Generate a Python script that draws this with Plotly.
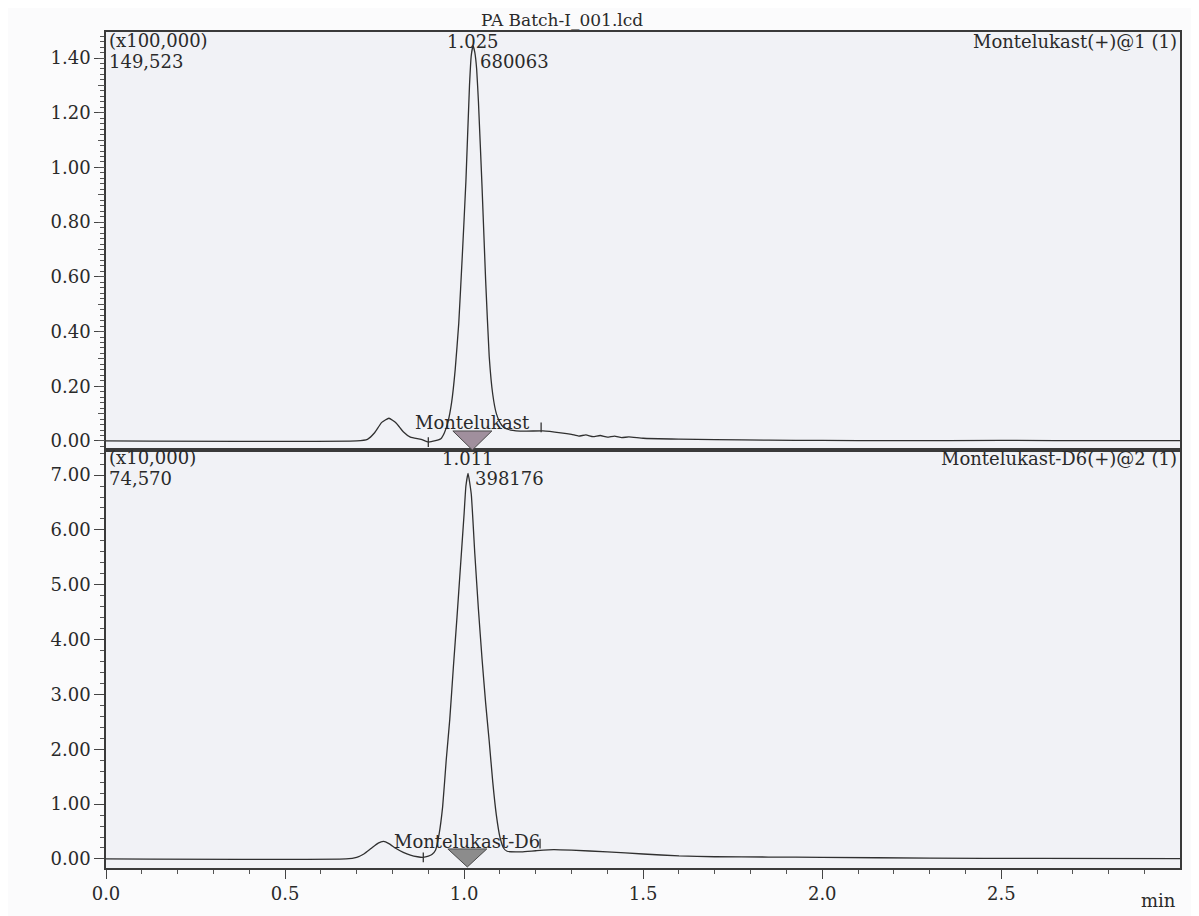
import plotly.graph_objects as go

# ---------------- data ----------------
# Top trace: Montelukast(+)@1, intensity in units of x100,000
top_time = [0.00, 0.70, 0.73, 0.75, 0.77, 0.79, 0.81, 0.83, 0.85, 0.88, 0.90, 0.92,
            0.935, 0.945, 0.955, 0.965, 0.975, 0.985, 0.995, 1.005, 1.015, 1.02,
            1.025, 1.03, 1.035, 1.04, 1.05, 1.06, 1.07, 1.08, 1.09, 1.10, 1.11,
            1.13, 1.17, 1.22, 1.27, 1.30, 1.32, 1.34, 1.36, 1.38, 1.40, 1.42,
            1.44, 1.46, 1.50, 1.60, 1.70, 1.85, 2.00, 2.20, 2.50, 2.80, 3.00]
top_int = [0.000, 0.000, 0.006, 0.030, 0.068, 0.083, 0.066, 0.034, 0.014, 0.006, -0.004, 0.001,
           0.008, 0.030, 0.070, 0.140, 0.260, 0.430, 0.680, 0.950, 1.300, 1.410,
           1.445, 1.420, 1.360, 1.240, 0.930, 0.590, 0.310, 0.170, 0.100, 0.068, 0.050,
           0.040, 0.036, 0.037, 0.030, 0.024, 0.018, 0.022, 0.016, 0.020, 0.014, 0.018,
           0.012, 0.015, 0.010, 0.007, 0.005, 0.003, 0.002, 0.001, 0.002, 0.001, 0.001]

# Bottom trace: Montelukast-D6(+)@2, intensity in units of x10,000
bot_time = [0.00, 0.67, 0.70, 0.72, 0.74, 0.76, 0.775, 0.79, 0.81, 0.83, 0.85, 0.87,
            0.885, 0.90, 0.91, 0.92, 0.93, 0.94, 0.95, 0.96, 0.97, 0.98, 0.99, 1.00,
            1.005, 1.011, 1.02, 1.03, 1.04, 1.05, 1.06, 1.07, 1.08, 1.09, 1.10, 1.11,
            1.12, 1.16, 1.20, 1.25, 1.30, 1.40, 1.50, 1.60, 1.70, 1.85, 2.00, 2.30,
            2.60, 3.00]
bot_int = [0.00, 0.00, 0.03, 0.09, 0.19, 0.29, 0.32, 0.28, 0.19, 0.12, 0.07, 0.04,
           0.03, 0.05, 0.08, 0.16, 0.45, 0.95, 1.80, 2.55, 3.50, 4.40, 5.35, 6.30,
           6.80, 7.03, 6.65, 5.55, 4.55, 3.65, 2.85, 2.15, 1.40, 0.80, 0.40, 0.20,
           0.14, 0.13, 0.15, 0.17, 0.16, 0.13, 0.09, 0.055, 0.04, 0.035, 0.03, 0.015,
           0.01, 0.005]

file_name = "PA Batch-I_001.lcd"
channel_names = ["Montelukast(+)@1 (1)", "Montelukast-D6(+)@2 (1)"]
compound_names = ["Montelukast", "Montelukast-D6"]
scale_labels = ["(x100,000)", "(x10,000)"]
max_intensity = ["149,523", "74,570"]
max_values = [1.49523, 7.4570]
peak_rt = [1.025, 1.011]
peak_area = ["680063", "398176"]
peak_bounds = [[0.90, 1.215], [0.886, 1.212]]
peak_bound_int = [[-0.004, 0.050], [0.03, 0.28]]

# ---------------- layout geometry (page pixels) ----------------
PAGE_W, PAGE_H = 1199, 916
OFF = 8                       # default body margin of the html page
L, R, T, B = 106, 1180, 32, 871


def px(x):
    return (x - L) / (R - L)


def py(y):
    return (B - y) / (B - T)


FONT = "DejaVu Serif, Liberation Serif, serif"
TXT = "#2a2a2a"
LINE = "#3a3a3a"
FS = 18

fig = go.Figure()

fig.add_trace(go.Scatter(x=top_time, y=top_int, mode="lines",
                         line=dict(color="#303030", width=1.3, shape="spline", smoothing=0.4),
                         xaxis="x", yaxis="y", showlegend=False, hoverinfo="skip"))
fig.add_trace(go.Scatter(x=bot_time, y=bot_int, mode="lines",
                         line=dict(color="#303030", width=1.3, shape="spline", smoothing=0.4),
                         xaxis="x2", yaxis="y2", showlegend=False, hoverinfo="skip"))

# peak start / end marks
for i, (xa, ya) in enumerate([("x", "y"), ("x2", "y2")]):
    fig.add_trace(go.Scatter(x=peak_bounds[i], y=peak_bound_int[i], mode="markers",
                             marker=dict(symbol="line-ns", size=7, color="#333333",
                                         line=dict(color="#333333", width=1.3)),
                             xaxis=xa, yaxis=ya, showlegend=False, hoverinfo="skip"))

# empty trace for overlay axis (medium ticks on the upper panel)
fig.add_trace(go.Scatter(x=[None], y=[None], xaxis="x", yaxis="y3",
                         showlegend=False, hoverinfo="skip"))

top_range = [-0.033, max_values[0]]
bot_range = [-0.165, max_values[1]]
x_range = [0, 2.999]

tickfont = dict(family=FONT, size=FS, color=TXT)

fig.update_layout(
    width=PAGE_W - OFF, height=PAGE_H - OFF,
    margin=dict(l=L - OFF, r=PAGE_W - R, t=T - OFF, b=PAGE_H - B),
    paper_bgcolor="#fbfbfc",
    plot_bgcolor="#f1f2f6",
    showlegend=False,
    xaxis=dict(domain=[0, 1], anchor="y", range=x_range, showticklabels=False,
               ticks="", showgrid=False, zeroline=False, showline=True, mirror=True,
               linecolor=LINE, linewidth=1.5),
    yaxis=dict(domain=[0.5, 1], anchor="x", range=top_range, tick0=0, dtick=0.2,
               tickformat=".2f", ticks="outside", ticklen=10, tickwidth=1, tickcolor="#444",
               minor=dict(dtick=0.02, tick0=0, ticks="outside", ticklen=4, tickcolor="#555"),
               tickfont=tickfont, showgrid=False, zeroline=False, showline=True, mirror=True,
               linecolor=LINE, linewidth=1.5),
    yaxis3=dict(overlaying="y", anchor="x", range=top_range, tick0=0, dtick=0.1,
                ticks="outside", ticklen=7, tickwidth=1, tickcolor="#555",
                showticklabels=False, showgrid=False, zeroline=False, showline=False),
    xaxis2=dict(domain=[0, 1], anchor="y2", range=x_range, tick0=0, dtick=0.5,
                tickformat=".1f", ticks="outside", ticklen=9, tickwidth=1, tickcolor="#444",
                minor=dict(dtick=0.1, tick0=0, ticks="outside", ticklen=4, tickcolor="#555"),
                tickfont=tickfont, showgrid=False, zeroline=False, showline=True, mirror=True,
                linecolor=LINE, linewidth=1.5),
    yaxis2=dict(domain=[0, 0.5], anchor="x2", range=bot_range, tick0=0, dtick=1,
                tickformat=".2f", ticks="outside", ticklen=10, tickwidth=1, tickcolor="#444",
                minor=dict(dtick=0.2, tick0=0, ticks="outside", ticklen=4, tickcolor="#555"),
                tickfont=tickfont, showgrid=False, zeroline=False, showline=True, mirror=True,
                linecolor=LINE, linewidth=1.5),
)

# peak triangles, anchored at the retention time, sized in pixels
tri_fill = ["#a08f9d", "#8c8c8c"]
tri_axes = [("x", "y"), ("x2", "y2")]
tri_up_down = [(10, -9), (10, -8)]
shapes = []
for i in range(2):
    up, down = tri_up_down[i]
    shapes.append(dict(type="path", xref=tri_axes[i][0], yref=tri_axes[i][1],
                       xsizemode="pixel", ysizemode="pixel",
                       xanchor=peak_rt[i] - 0.002, yanchor=0,
                       path=f"M -19.5,{up} L 19.5,{up} L 0,{down} Z",
                       fillcolor=tri_fill[i], line=dict(color="#4a4a4a", width=1)))
fig.update_layout(shapes=shapes)

ann = []


def add_text(text, x, y, xanchor="left", size=FS):
    ann.append(dict(text=text, x=px(x), y=py(y), xref="paper", yref="paper",
                    xanchor=xanchor, yanchor="middle", showarrow=False,
                    font=dict(family=FONT, size=size, color=TXT)))


add_text(file_name, 562, 20, "center", size=17)
add_text("min", 1178, 904, "right")

labels_y = [(41, 62), (459, 480)]
for i, (xa, ya) in enumerate(tri_axes):
    y1, y2 = labels_y[i]
    add_text(scale_labels[i], 107, y1)
    add_text(max_intensity[i], 107, y2)
    add_text(channel_names[i], 1179, y1 + 1, "right")
    ann.append(dict(text=f"{peak_rt[i]:.3f}", x=peak_rt[i], y=py(y1 + 1), xref=xa, yref="paper",
                    xanchor="center", yanchor="middle", showarrow=False,
                    font=dict(family=FONT, size=FS, color=TXT)))
    ann.append(dict(text=peak_area[i], x=peak_rt[i], y=py(y2), xref=xa, yref="paper",
                    xanchor="left", yanchor="middle", showarrow=False, xshift=5,
                    font=dict(family=FONT, size=FS, color=TXT)))

ann.append(dict(text=compound_names[0], x=1.022, y=py(424), xref="x", yref="paper",
                xanchor="center", yanchor="middle", showarrow=False,
                font=dict(family=FONT, size=FS, color=TXT)))
ann.append(dict(text=compound_names[1], x=1.009, y=py(844), xref="x2", yref="paper",
                xanchor="center", yanchor="middle", showarrow=False,
                font=dict(family=FONT, size=FS, color=TXT)))

fig.update_layout(annotations=ann)

fig.write_html("out.html")
